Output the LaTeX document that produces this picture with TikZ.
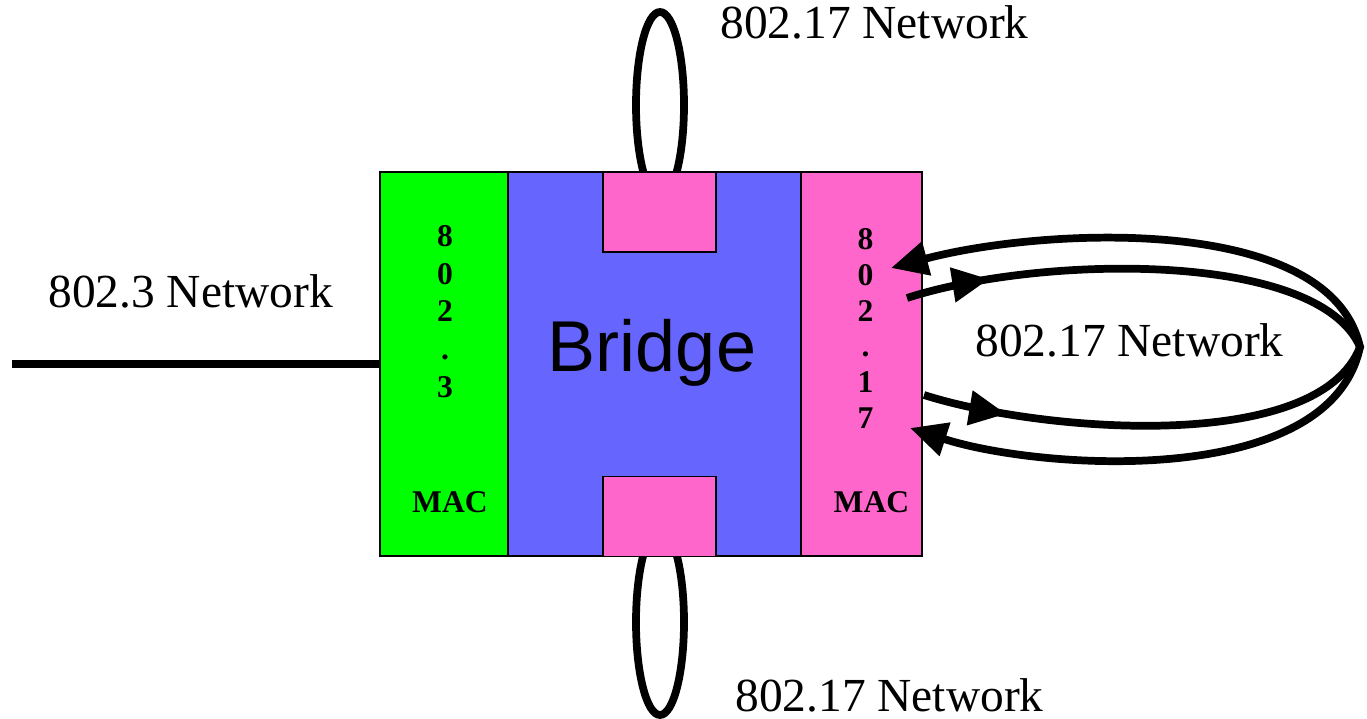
\documentclass[tikz,border=0pt]{standalone}
\usepackage{fontspec}
\setmainfont{Liberation Serif}
\newfontfamily\bridgefont{Liberation Sans}
\usetikzlibrary{
  arrows.meta,
  decorations.markings
}
\definecolor{macgreen}{RGB}{0,255,0}
\definecolor{bridgeblue}{RGB}{102,102,255}
\definecolor{macpink}{RGB}{255,102,204}
\tikzset{
  panel/.style={
    rectangle, draw, line width=0.7pt, inner sep=0pt,
    minimum height=7.68cm
  },
  porttab/.style={
    rectangle, draw, line width=0.7pt, inner sep=0pt, fill=macpink,
    minimum width=2.26cm, minimum height=1.6cm
  },
  netlabel/.style={anchor=base west, inner sep=0pt, font=\fontsize{27}{32}\selectfont},
  stack/.style={anchor=north, inner sep=0pt, align=center},
  maclabel/.style={anchor=base, inner sep=0pt, font=\bfseries\fontsize{18}{21}\selectfont},
  wire/.style={line width=4.4pt},
  outloop/.style={wire, {Triangle[length=21pt, width=19pt]}-{Triangle[length=21pt, width=19pt]}},
  inloop/.style={
    wire,
    decoration={markings,
      mark=at position 48pt with {\arrow{Triangle[length=21pt, width=19pt]}},
      mark=at position -48pt with {\arrowreversed{Triangle[length=21pt, width=19pt]}}},
    postaction={decorate}
  }
}

\begin{document}
\begin{tikzpicture}[x=0.02cm, y=-0.02cm]
\useasboundingbox (0,0) rectangle (1367,719);

% loops above and below the bridge
\draw[wire] (660,105) ellipse [x radius=24, y radius=93];
\draw[wire] (660,622) ellipse [x radius=24, y radius=93];

% MAC panels and bridge
\node[panel, fill=macgreen, minimum width=2.56cm] (mac3) at (444,364) {};
\node[panel, fill=bridgeblue, minimum width=5.86cm] (bridge) at (654.5,364) {};
\node[panel, fill=macpink, minimum width=2.42cm] (mac17) at (861.5,364) {};
\node[porttab] (tabtop) at (659.5,212) {};
\node[porttab] (tabbot) at (659.5,516.5) {};

% 802.3 wire
\coordinate (lanend) at (12,364);
\draw[wire] (lanend) -- (mac3.west);

% 802.17 ring on the right
\coordinate (outA) at (891,268);
\coordinate (outB) at (910,428);
\coordinate (inA) at (907,298);
\coordinate (inB) at (924,395);
\coordinate (ringtip) at (1360,347);
\draw[outloop] (outA) .. controls (1040,228) and (1330,212) .. (ringtip)
  .. controls (1330,490) and (1040,470) .. (outB);
\draw[inloop] (inA) .. controls (1040,255) and (1318,250) .. (ringtip)
  .. controls (1318,455) and (1040,432) .. (inB);

% texts
\node[anchor=base, inner sep=0pt, font=\bridgefont\fontsize{41}{49}\selectfont] (bridgetxt) at (652,372) {Bridge};
\node[stack, font=\bfseries\fontsize{18}{21.5}\selectfont] (digits3) at (445,225) {8\\0\\2\\.\\3};
\node[stack, font=\bfseries\fontsize{18}{20.4}\selectfont] (digits17) at (865.5,228) {8\\0\\2\\.\\1\\7};
\node[maclabel] (macl) at (450,513) {MAC};
\node[maclabel] (macr) at (871.5,513) {MAC};

\node[netlabel] (nettop) at (720,39) {802.17 Network};
\node[netlabel] (netbot) at (735,711) {802.17 Network};
\node[netlabel] (netleft) at (48,308) {802.3 Network};
\node[netlabel] (netright) at (975,357) {802.17 Network};

\end{tikzpicture}
\end{document}
